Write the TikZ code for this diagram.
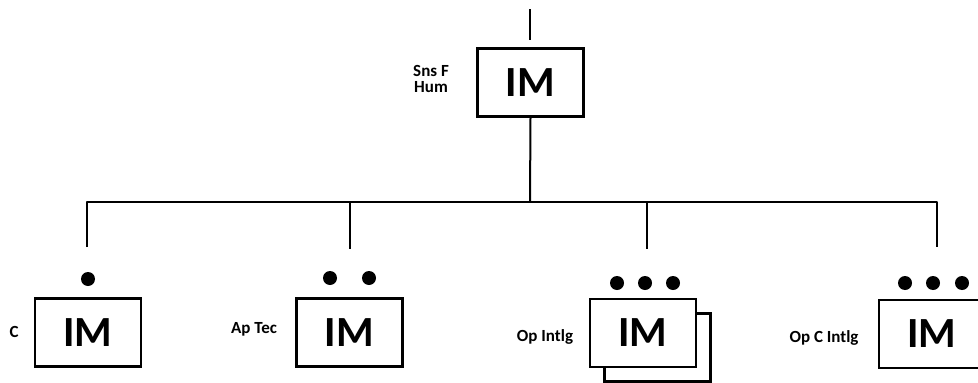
\documentclass[tikz,border=0pt]{standalone}
\usepackage{fontspec}
\setmainfont{Carlito}
\begin{document}
\begin{tikzpicture}[x=1pt,y=-1pt,
  imbox/.style={draw,line width=2.6pt,fill=white,minimum width=106pt,minimum height=68pt,inner sep=0pt,
     font=\fontsize{43}{43}\selectfont\bfseries},
  shadowbox/.style={draw,line width=2.6pt,fill=white,minimum width=106pt,minimum height=68pt,inner sep=0pt},
  lab/.style={font=\fontsize{17}{17}\selectfont\bfseries,align=center,inner sep=0pt},
  conn/.style={line width=2pt},
  dot/.style={circle,fill=black,inner sep=0pt,minimum size=14pt}]
\useasboundingbox (0,0) rectangle (978,383);
% top
\coordinate (tA) at (530,9);
\coordinate (tB) at (530,40);
\node[imbox] (top) at (530.5,82.5) {IM};
\node[lab] (ltop) at (431,79) {Sns F\\[-1pt]Hum};
\draw[conn] (tA) -- (tB);
% tree
\coordinate (J) at (530,201.5);
\coordinate (hL) at (87,201.5);
\coordinate (h2) at (350,201.5);
\coordinate (h3) at (647,201.5);
\coordinate (hR) at (937,201.5);
\coordinate (d1) at (87,247);
\coordinate (d2) at (350,249);
\coordinate (d3) at (647,249);
\coordinate (d4) at (937,247);
\draw[conn] (top.south) -- (J);
\draw[conn,line join=round] (d1) -- (hL) -- (hR) -- (d4);
\draw[conn] (h2) -- (d2);
\draw[conn] (h3) -- (d3);
% box 1
\node[imbox] (b1) at (88,332.5) {IM};
\node[dot] (p11) at (88,279) {};
\node[lab] (l1) at (14,332) {C};
% box 2
\node[imbox] (b2) at (349.5,332.5) {IM};
\node[dot] (p21) at (330,278) {};
\node[dot] (p22) at (369,278) {};
\node[lab] (l2) at (254,329) {Ap Tec};
% box 3
\node[shadowbox] (s3) at (657.5,347.5) {};
\node[imbox] (b3) at (643,333) {IM};
\node[dot] (p31) at (617,283) {};
\node[dot] (p32) at (645,283) {};
\node[dot] (p33) at (673,283) {};
\node[lab] (l3) at (545,337) {Op Intlg};
% box 4
\node[imbox] (b4) at (932,334) {IM};
\node[dot] (p41) at (905,283) {};
\node[dot] (p42) at (933,283) {};
\node[dot] (p43) at (962,283) {};
\node[lab] (l4) at (824,338) {Op C Intlg};
\end{tikzpicture}
\end{document}
